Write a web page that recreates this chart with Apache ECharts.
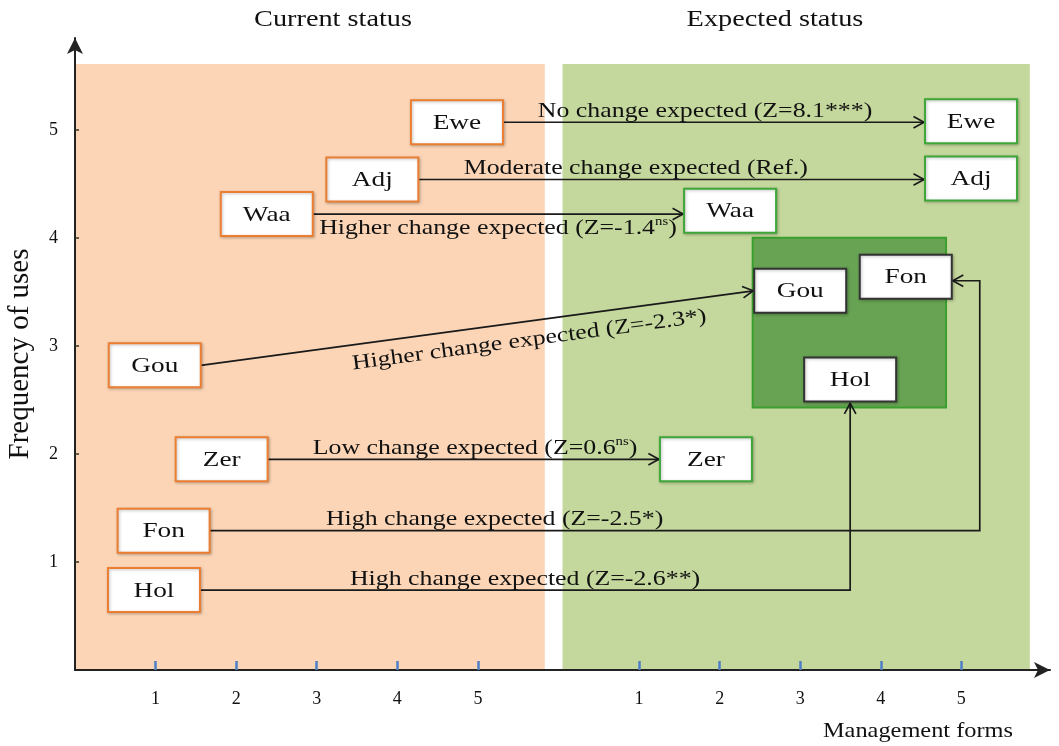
<!DOCTYPE html>
<html><head><meta charset="utf-8">
<script src="https://cdn.jsdelivr.net/npm/echarts@6/dist/echarts.min.js"></script>
<style>html,body{margin:0;padding:0;background:#fff}#c{width:1059px;height:746px}</style>
</head><body><div id="c"></div>
<script>
// ---- data ----
const forms = ['Ewe', 'Adj', 'Waa', 'Gou', 'Zer', 'Fon', 'Hol'];
const currentX = [4.74, 3.69, 2.38, 0.99, 1.82, 1.10, 0.98];
const currentY = [5.07, 4.54, 4.22, 2.82, 1.95, 1.29, 0.74];
const expectedX = [11.12, 11.12, 8.13, 9.00, 7.83, 10.31, 9.62];
const expectedY = [5.08, 4.55, 4.25, 3.51, 1.95, 3.64, 2.69];
const changeText = ['No change expected', 'Moderate change expected', 'Higher change expected',
  'Higher change expected', 'Low change expected', 'High change expected', 'High change expected'];
const zText = ['Z=8.1', 'Ref.', 'Z=-1.4', 'Z=-2.3', 'Z=0.6', 'Z=-2.5', 'Z=-2.6'];
const signif = ['***', '', 'ns', '*', 'ns', '*', '**'];
const highChangeGroup = [false, false, false, true, false, true, true];
const tickLabels = ['1', '2', '3', '4', '5'];
const yTickLabels = ['1', '2', '3', '4', '5'];
const panelTitles = ['Current status', 'Expected status'];
const xTitle = 'Management forms';
const yTitle = 'Frequency of uses';

// ---- layout ----
const routes = ['straight', 'straight', 'straight', 'diagonal', 'straight', 'elbowRight', 'elbowUp'];
const labelAt = [0.48, 0.43, 0.5, 0.59, 0.53, 0.37, 0.5];
const labelSide = ['above', 'above', 'below', 'below', 'above', 'above', 'above'];
const BOX_W = 92, BOX_H = 44;
const FONT = '"Liberation Serif", "Times New Roman", serif';
const INK = '#111';

const leftTicks = tickLabels.map(Number);
const rightTicks = leftTicks.map(v => v + 6);
const yTicks = yTickLabels.map(Number);

const chart = echarts.init(document.getElementById('c'));

const boxData = [];
forms.forEach((f, i) => {
  boxData.push([currentX[i], currentY[i], i, 0]);
  boxData.push([expectedX[i], expectedY[i], i, 1]);
});
const arrowData = forms.map((f, i) => [currentX[i], currentY[i], expectedX[i], expectedY[i], i]);

function labelRich(i) {
  const head = changeText[i] + ' (' + zText[i];
  if (signif[i] === 'ns') return '{t|' + head + '}{s|ns}{t|)}';
  return '{t|' + head + signif[i] + ')}';
}

function renderArrow(params, api) {
  const i = api.value(4);
  const a = api.coord([api.value(0), api.value(1)]);
  const b = api.coord([api.value(2), api.value(3)]);
  const hw = BOX_W / 2, hh = BOX_H / 2;
  const s = [a[0] + hw, a[1]];
  let pts;
  switch (routes[i]) {
    case 'diagonal': pts = [s, [b[0] - hw - 1, b[1]]]; break;
    case 'elbowRight': { const cx = b[0] + hw + 28; pts = [s, [cx, a[1]], [cx, b[1] + 4], [b[0] + hw + 1, b[1] + 4]]; break; }
    case 'elbowUp': pts = [s, [b[0], a[1]], [b[0], b[1] + hh + 2]]; break;
    default: pts = [s, [b[0] - hw - 1, a[1]]];
  }
  const tip = pts[pts.length - 1], prev = pts[pts.length - 2];
  const ang = Math.atan2(tip[1] - prev[1], tip[0] - prev[0]);
  const L = 12, spread = 0.5;
  const h1 = [tip[0] - L * Math.cos(ang - spread), tip[1] - L * Math.sin(ang - spread)];
  const h2 = [tip[0] - L * Math.cos(ang + spread), tip[1] - L * Math.sin(ang + spread)];
  // label along first segment
  const p0 = pts[0], p1 = pts[1];
  const t = labelAt[i];
  const P = [p0[0] + (p1[0] - p0[0]) * t, p0[1] + (p1[1] - p0[1]) * t];
  const dx = p1[0] - p0[0], dy = p1[1] - p0[1];
  const len = Math.hypot(dx, dy);
  const n = [-dy / len, dx / len];
  const below = labelSide[i] === 'below';
  const off = below ? (routes[i] === 'diagonal' ? 7 : 2) : 1;
  const anchor = [P[0] + n[0] * off, P[1] + n[1] * off];
  const rot = Math.atan2(-dy, dx);
  return {
    type: 'group',
    children: [
      { type: 'polyline', shape: { points: pts }, style: { stroke: '#1a1a1a', lineWidth: 1.7, fill: null } },
      { type: 'polyline', shape: { points: [h1, tip, h2] }, style: { stroke: '#1a1a1a', lineWidth: 1.7, fill: null } },
      {
        type: 'text', x: anchor[0], y: anchor[1], rotation: rot, scaleX: 1.23,
        style: {
          text: labelRich(i), align: 'center', verticalAlign: below ? 'top' : 'bottom', fill: INK,
          rich: {
            t: { fontSize: 21, fontFamily: FONT, fill: INK, lineHeight: 24 },
            s: { fontSize: 12, fontFamily: FONT, fill: INK, lineHeight: 12, verticalAlign: 'top' }
          }
        }
      }
    ]
  };
}

function renderBox(params, api) {
  const p = api.coord([api.value(0), api.value(1)]);
  const i = api.value(2), side = api.value(3);
  const grouped = side === 1 && highChangeGroup[i];
  const stroke = side === 0 ? '#EC7E32' : (grouped ? '#333' : '#3FA63A');
  return {
    type: 'group',
    children: [
      { type: 'rect', shape: { x: p[0] - BOX_W / 2, y: p[1] - BOX_H / 2, width: BOX_W, height: BOX_H },
        style: { fill: '#fff', stroke: stroke, lineWidth: 2, shadowBlur: 3, shadowColor: 'rgba(0,0,0,0.25)', shadowOffsetX: 1, shadowOffsetY: 1 } },
      { type: 'text', x: p[0], y: p[1] + 1, scaleX: 1.3,
        style: { text: forms[i], fontSize: 21, fontFamily: FONT, fill: INK, align: 'center', verticalAlign: 'middle' } }
    ]
  };
}

const option = {
  backgroundColor: '#fff',
  animation: false,
  grid: { left: 75, right: 9, top: 38, bottom: 76, containLabel: false, outerBoundsMode: 'none' },
  xAxis: {
    type: 'value', min: 0, max: 12.1, interval: 1, z: 10,
    splitLine: { show: false },
    axisLine: { show: true, lineStyle: { color: '#222', width: 2 }, symbol: ['none', 'arrow'], symbolSize: [12, 16] },
    axisTick: { show: true, inside: true, length: 9, customValues: leftTicks.concat(rightTicks), lineStyle: { color: '#4F7FC4', width: 2.5 } },
    axisLabel: {
      customValues: leftTicks.concat(rightTicks), margin: 20,
      formatter: v => (v > 6 ? tickLabels[v - 7] : tickLabels[v - 1]),
      fontSize: 18, fontFamily: FONT, color: INK
    }
  },
  yAxis: {
    type: 'value', min: 0, max: 5.85, interval: 1, z: 10,
    splitLine: { show: false },
    name: yTitle, nameLocation: 'middle', nameGap: 40, nameRotate: 90,
    nameTextStyle: { fontSize: 29, fontFamily: FONT, color: INK },
    axisLine: { show: true, lineStyle: { color: '#222', width: 2 }, symbol: ['none', 'arrow'], symbolSize: [12, 16] },
    axisTick: { show: true, inside: true, length: 4, customValues: yTicks, lineStyle: { color: '#333', width: 1.5 } },
    axisLabel: {
      customValues: yTicks, margin: 17,
      formatter: v => yTickLabels[v - 1],
      fontSize: 18, fontFamily: FONT, color: INK
    }
  },
  graphic: [
    { type: 'text', x: 333, y: 20, scaleX: 1.23, style: { text: panelTitles[0], fontSize: 23, fontFamily: FONT, fill: INK, align: 'center', verticalAlign: 'middle' } },
    { type: 'text', x: 775, y: 20, scaleX: 1.23, style: { text: panelTitles[1], fontSize: 23, fontFamily: FONT, fill: INK, align: 'center', verticalAlign: 'middle' } },
    { type: 'text', x: 918, y: 731, scaleX: 1.16, style: { text: xTitle, fontSize: 21, fontFamily: FONT, fill: INK, align: 'center', verticalAlign: 'middle' } }
  ],
  series: [
    {
      type: 'line', data: [], z: 1, silent: true,
      markArea: {
        silent: true,
        data: [
          [{ xAxis: 0, yAxis: 0, itemStyle: { color: '#FBD5B6', opacity: 1 } }, { xAxis: 5.83, yAxis: 5.61 }],
          [{ xAxis: 6.05, yAxis: 0, itemStyle: { color: '#C4D79C', opacity: 1 } }, { xAxis: 11.85, yAxis: 5.61 }],
          [{ xAxis: 8.41, yAxis: 2.43, itemStyle: { color: '#68A253', opacity: 1, borderColor: '#3A9F2E', borderWidth: 2 } }, { xAxis: 10.81, yAxis: 4.0 }]
        ]
      }
    },
    {
      type: 'custom', z: 3, silent: true, renderItem: renderArrow, data: arrowData,
      encode: { x: [0, 2], y: [1, 3] }
    },
    {
      type: 'custom', z: 4, silent: true, renderItem: renderBox, data: boxData,
      encode: { x: 0, y: 1 }
    }
  ]
};
chart.setOption(option);
</script>
</body></html>
